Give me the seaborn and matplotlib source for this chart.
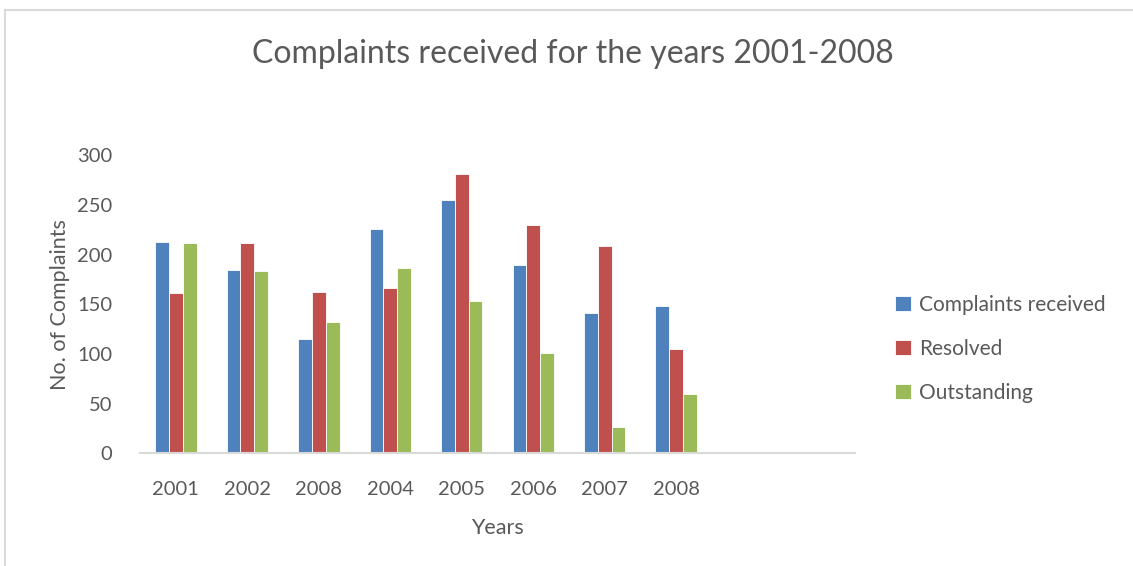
import matplotlib
matplotlib.use("Agg")
import matplotlib.pyplot as plt
from matplotlib.patches import Rectangle
from matplotlib.ticker import FixedLocator, NullFormatter
import seaborn as sns
import pandas as pd

# Category labels (the chart reserves two extra empty slots at the end)
year_labels = ["2001", "2002", "2008", "2004", "2005", "2006", "2007", "2008"]
empty_slots = 2

series_names = ["Complaints received", "Resolved", "Outstanding"]
received = [213, 184, 115, 226, 255, 189, 141, 148]
resolved = [161, 212, 162, 166, 281, 230, 209, 105]
outstanding = [212, 183, 132, 186, 153, 101, 27, 60]

colors = ["#4F81BD", "#C0504D", "#9BBB59"]
text_color = "#595959"

rows = []
for name, vals in zip(series_names, [received, resolved, outstanding]):
    for i, v in enumerate(vals):
        rows.append({"slot": i, "series": name, "value": v})
df = pd.DataFrame(rows)

sns.set_style("white")
plt.rcParams["font.family"] = ["Lato", "DejaVu Sans"]

fig = plt.figure(figsize=(11.33, 5.66), dpi=100)
ax = fig.add_axes([0.1236, 0.199, 0.631, 0.527])

n_slots = len(year_labels) + empty_slots
sns.barplot(
    data=df, x="slot", y="value", hue="series",
    order=list(range(n_slots)), hue_order=series_names,
    palette=colors, width=0.58, saturation=1,
    edgecolor="white", linewidth=0.6, ax=ax,
)

ax.set_xlim(-0.5, n_slots - 0.5)
ax.set_ylim(0, 300)
ax.set_yticks([0, 50, 100, 150, 200, 250, 300])

ax.set_xticks(range(n_slots))
ax.set_xticklabels(year_labels + [""] * empty_slots)
ax.xaxis.set_minor_locator(FixedLocator([i - 0.5 for i in range(n_slots + 1)]))
ax.xaxis.set_minor_formatter(NullFormatter())
ax.tick_params(axis="x", which="major", length=0, pad=20, labelsize=14.5, labelcolor=text_color)
ax.tick_params(axis="x", which="minor", length=7, width=1.2, color="#d9d9d9", direction="out")
ax.tick_params(axis="y", length=0, pad=20, labelsize=14.5, labelcolor=text_color)

for side in ["top", "right", "left"]:
    ax.spines[side].set_visible(False)
ax.spines["bottom"].set_color("#d9d9d9")
ax.spines["bottom"].set_linewidth(1.5)
ax.grid(False)

ax.set_xlabel("Years", fontsize=15.5, color=text_color, labelpad=14)
ax.set_ylabel("No. of Complaints", fontsize=15.5, color=text_color, labelpad=5)

fig.text(0.506, 0.905, "Complaints received for the years 2001-2008",
         ha="center", va="center", fontsize=23, color=text_color)

leg = ax.legend(
    loc="center left", bbox_to_anchor=(1.03, 0.35), frameon=False,
    fontsize=15, handlelength=0.75, handleheight=0.75, handletextpad=0.4,
    labelspacing=1.15,
)
for t in leg.get_texts():
    t.set_color(text_color)

# Outer chart frame
fig.patches.append(Rectangle((5 / 1133, -0.05), 1.1, 0.05 + (566 - 10) / 566,
                             transform=fig.transFigure, fill=False,
                             edgecolor="#d9d9d9", linewidth=1.5))

fig.savefig("out.png", dpi=100, facecolor="white")
